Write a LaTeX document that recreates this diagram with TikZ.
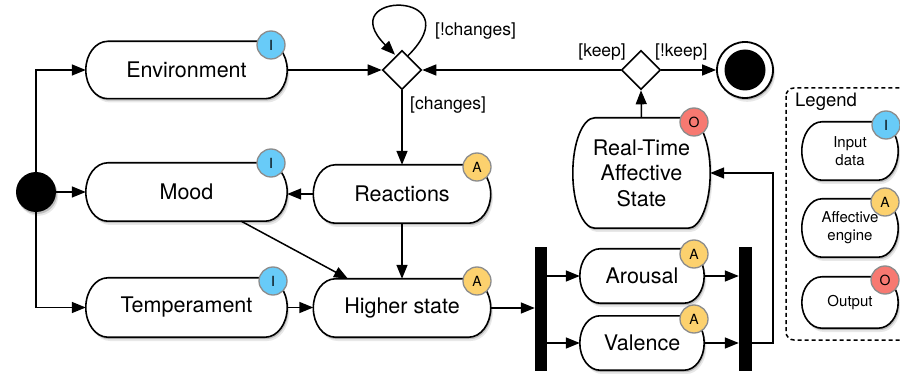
\documentclass[tikz,border=0pt]{standalone}
\usepackage{fontspec}
\setmainfont{TeX Gyre Heros}
\usetikzlibrary{arrows.meta,shapes.geometric,shadows,calc,backgrounds}

\definecolor{badgeblue}{RGB}{104,203,248}
\definecolor{badgeyellow}{RGB}{252,209,110}
\definecolor{badgered}{RGB}{247,121,113}
\definecolor{badgerim}{RGB}{140,140,140}

\newcommand\mainsz{\fontsize{21.5}{25.5}\selectfont}
\newcommand\guardsz{\fontsize{17.5}{20}\selectfont}
\newcommand\legsz{\fontsize{15}{18}\selectfont}
\newcommand\legtitlesz{\fontsize{18.5}{20}\selectfont}
\newcommand\badgesz{\fontsize{14}{14}\selectfont}

\tikzset{
  shadowed/.style={
    drop shadow={shadow xshift=1.2pt,shadow yshift=-2pt,opacity=0.18,fill=black},
    drop shadow={shadow xshift=2.2pt,shadow yshift=-3.8pt,opacity=0.09,fill=black}},
  pillline/.style={draw,line width=1.6pt,fill=white,shadowed},
  box/.style={inner sep=0pt,align=center,font=\mainsz},
  legbox/.style={inner sep=0pt,align=center,font=\legsz,minimum width=96pt},
  gate/.style={diamond,draw,line width=1.6pt,fill=white,minimum width=39pt,
    minimum height=39pt,inner sep=0pt},
  forkbar/.style={rectangle,fill=black,minimum width=12pt,minimum height=124pt,inner sep=0pt},
  badge/.style={circle,draw=badgerim,line width=1.3pt,minimum size=28pt,inner sep=0pt,
    font=\badgesz},
  guard/.style={font=\guardsz,inner sep=0pt},
  arr/.style={line width=1.5pt,-{Triangle[length=14pt,width=11pt]}},
}

% outline of a state box: straight top and bottom, half-elliptic sides
\newcommand\pill[2]{%
  \path[pillline] let \p1=(#1.north west), \p2=(#1.south east) in
    (\x1+#2pt,\y1) -- (\x2-#2pt,\y1)
    arc[start angle=90,end angle=-90,x radius=#2pt,y radius={(\y1-\y2)/2}]
    -- (\x1+#2pt,\y2)
    arc[start angle=270,end angle=90,x radius=#2pt,y radius={(\y1-\y2)/2}] -- cycle;}

\begin{document}
\begin{tikzpicture}[x=1pt,y=-1pt]
\useasboundingbox (0,0) rectangle (900,374);

% legend frame, running off the right edge
\begin{scope}
  \clip (0,0) rectangle (900,374);
  \draw[line width=1.5pt,dash pattern=on 4pt off 3pt,rounded corners=8pt]
    (786,88) rectangle (915,340);
\end{scope}

% state boxes
\node[box,minimum width=201pt,minimum height=57pt] (env)   at (186.5,70) {Environment};
\node[box,minimum width=201pt,minimum height=58pt] (mood)  at (186.5,192)  {Mood};
\node[box,minimum width=201pt,minimum height=59pt] (temp)  at (186.5,307.5){Temperament};
\node[box,minimum width=177pt,minimum height=58pt] (react) at (402,194)    {Reactions};
\node[box,minimum width=177pt,minimum height=58pt] (higher)at (402,308)    {Higher state};
\node[box,minimum width=137pt,minimum height=110pt](rt)    at (641.5,173)  {Real-Time\\Affective\\State};
\node[box,minimum width=124pt,minimum height=54pt] (arousal) at (642,276)  {Arousal};
\node[box,minimum width=124pt,minimum height=54pt] (valence) at (642,343)  {Valence};

% legend entries
\node[font=\legtitlesz,anchor=base west,inner sep=0pt] (legtitle) at (795,107) {Legend};
\node[legbox,minimum height=58pt] (leginput)  at (850,151)   {Input\\data};
\node[legbox,minimum height=58pt] (legengine) at (850,228)   {Affective\\engine};
\node[legbox,minimum height=51pt] (legoutput) at (850,302.5) {Output};

\begin{scope}[on background layer]
  \pill{env}{22} \pill{mood}{22} \pill{temp}{22}
  \pill{react}{22} \pill{higher}{22}
  \pill{rt}{22}
  \pill{arousal}{20} \pill{valence}{20}
  \pill{leginput}{20} \pill{legengine}{20} \pill{legoutput}{20}
\end{scope}

% control nodes
\node[circle,fill=black,minimum size=40pt,inner sep=0pt,shadowed] (start) at (36,192) {};
\node[gate] (d1)   at (402,70) {};
\node[gate] (keep) at (641,70) {};
\node[circle,draw,line width=1.8pt,fill=white,minimum size=56pt,inner sep=0pt,shadowed] (endc) at (745,70) {};
\node[circle,fill=black,minimum size=41pt,inner sep=0pt] (endcore) at (endc) {};
\node[forkbar] (fork1) at (541,309) {};
\node[forkbar,minimum width=13pt] (fork2) at (745.5,309) {};

% connectors
\draw[arr] (start.north) |- (env.west);
\draw[arr] (start.east) -- (mood.west);
\draw[arr] (start.south) |- (temp.west);
\draw[arr] (env.east) -- (d1.west);
\draw[arr] (keep.west) -- (d1.east);
\draw[arr] (keep.east) -- (endc.west);
\draw[arr] (rt.north) -- (keep.south);
\draw[arr] ($(d1.north)+(6,6)$) .. controls +(66,-66) and +(-64,-64) .. ($(d1.north)+(-7,5)$);
\draw[arr] (d1.south) -- (react.north);
\draw[arr] (react.west) -- (react.west -| mood.east);
\draw[arr] (react.south) -- (higher.north);
\draw[arr] ([xshift=-46pt]mood.south east) -- ([xshift=-54pt]higher.north);
\draw[arr] (temp.east) -- (temp.east -| higher.west);
\draw[arr] (higher.east) -- (higher.east -| fork1.west);
\draw[arr] (fork1.east |- arousal.west) -- (arousal.west);
\draw[arr] (fork1.east |- valence.west) -- (valence.west);
\draw[arr] (arousal.east) -- (arousal.east -| fork2.west);
\draw[arr] (valence.east) -- (valence.east -| fork2.west);
\draw[arr] (valence.east -| fork2.east) -- ++(21,0) |- (rt.east);

% guard labels
\node[guard,anchor=west] (gnochg) at (435,31)  {[!changes]};
\node[guard,anchor=west] (gchg)   at (410,105) {[changes]};
\node[guard,anchor=east] (gkeep)  at (626,52)  {[keep]};
\node[guard,anchor=west] (gnokeep)at (655,52)  {[!keep]};

% role badges
\node[badge,fill=badgeblue]   (benv)    at (271,45)  {I};
\node[badge,fill=badgeblue]   (bmood)   at (271,163) {I};
\node[badge,fill=badgeblue]   (btemp)   at (273,281) {I};
\node[badge,fill=badgeyellow] (breact)  at (477,167) {A};
\node[badge,fill=badgeyellow] (bhigher) at (477,281) {A};
\node[badge,fill=badgered]    (brt)     at (694,122) {O};
\node[badge,fill=badgeyellow] (barousal)at (694,254) {A};
\node[badge,fill=badgeyellow] (bvalence)at (694,319) {A};
\node[badge,fill=badgeblue]   (binput)  at (886,125) {I};
\node[badge,fill=badgeyellow] (bengine) at (885,202) {A};
\node[badge,fill=badgered]    (boutput) at (885,280) {O};
\end{tikzpicture}
\end{document}
